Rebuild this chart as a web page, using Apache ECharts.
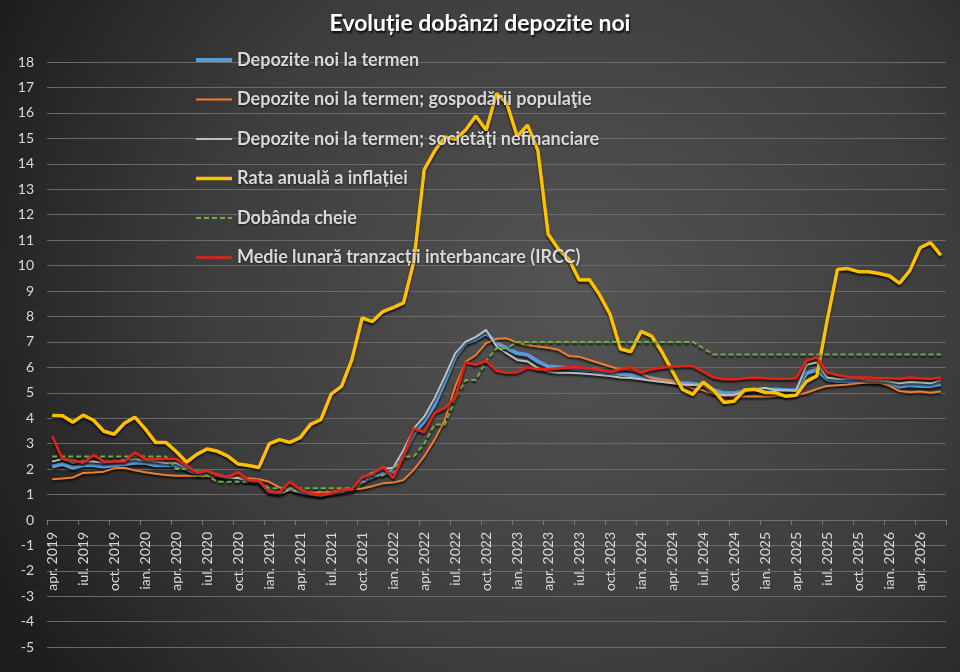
<!DOCTYPE html>
<html>
<head>
<meta charset="utf-8">
<script src="https://cdn.jsdelivr.net/npm/echarts@6/dist/echarts.min.js"></script>
<style>
html, body { margin: 0; padding: 0; background: #333; }
#chart { width: 960px; height: 672px; }
</style>
</head>
<body>
<div id="chart"></div>
<script>
// luni in romana, axa incepe cu apr. 2019 si merge 87 de luni
var luni = ['ian.', 'feb.', 'mar.', 'apr.', 'mai', 'iun.', 'iul.', 'aug.', 'sep.', 'oct.', 'nov.', 'dec.']
var categorii = []
for (var k = 3; k < 3 + 87; k++) {
    categorii.push(luni[k % 12] + ' ' + (2019 + Math.floor(k / 12)))
}

var numeSerii = [
    'Depozite noi la termen',
    'Depozite noi la termen; gospodării populaţie',
    'Depozite noi la termen; societăţi nefinanciare',
    'Rata anuală a inflației',
    'Dobânda cheie',
    'Medie lunară tranzacții interbancare (IRCC)'
]

var depoziteTermen = [
    2.1, 2.2, 2.05, 2.15, 2.15, 2.1, 2.15, 2.2, 2.25,
    2.25, 2.15, 2.15, 2.15, 2.0, 1.85, 1.85, 1.75, 1.65, 1.6, 1.55, 1.5,
    1.1, 1.05, 1.2, 1.1, 1.02, 0.98, 1.05, 1.1, 1.15, 1.5, 1.7, 1.84,
    1.9, 2.55, 3.4, 3.87, 4.52, 5.44, 6.42, 6.95, 7.1, 7.35, 6.95, 6.75,
    6.55, 6.49, 6.23, 6.03, 6.0, 5.96, 5.92, 5.9, 5.83, 5.79, 5.74, 5.7,
    5.63, 5.57, 5.5, 5.44, 5.37, 5.35, 5.3, 5.1, 4.98, 4.98, 5.05, 5.1,
    5.1, 5.13, 5.1, 5.1, 5.77, 5.9, 5.53, 5.47, 5.47, 5.47, 5.45, 5.42,
    5.37, 5.24, 5.3, 5.27, 5.26, 5.34
]

var depoziteGospodarii = [
    1.6, 1.63, 1.67, 1.85, 1.87, 1.9, 2.03, 2.05, 1.95,
    1.88, 1.82, 1.77, 1.74, 1.74, 1.73, 1.72, 1.71, 1.7, 1.68, 1.64, 1.6,
    1.5, 1.28, 1.18, 1.1, 1.08, 1.1, 1.12, 1.15, 1.2, 1.24, 1.33, 1.44,
    1.47, 1.57, 1.97, 2.5, 3.15, 3.93, 5.24, 6.22, 6.48, 6.95, 7.12, 7.14,
    6.97, 6.88, 6.82, 6.77, 6.69, 6.45, 6.42, 6.29, 6.16, 6.03, 5.92, 5.9,
    5.77, 5.57, 5.5, 5.44, 5.31, 5.18, 5.1, 4.95, 4.87, 4.85, 4.85, 4.85,
    4.85, 4.87, 4.87, 4.9, 5.0, 5.15, 5.27, 5.3, 5.33, 5.37, 5.4, 5.41,
    5.27, 5.07, 5.02, 5.05, 5.0, 5.05
]

var depoziteSocietati = [
    2.3, 2.4, 2.25, 2.3, 2.3, 2.25, 2.3, 2.35, 2.4,
    2.35, 2.3, 2.25, 2.25, 2.05, 1.9, 1.9, 1.75, 1.65, 1.65, 1.55, 1.5,
    1.1, 1.05, 1.2, 1.1, 1.0, 0.95, 1.05, 1.1, 1.2, 1.65, 1.85, 2.0,
    2.05, 2.75, 3.6, 4.06, 4.78, 5.64, 6.55, 7.0, 7.2, 7.47, 6.82, 6.55,
    6.29, 6.23, 5.96, 5.83, 5.79, 5.79, 5.77, 5.74, 5.7, 5.66, 5.6, 5.58,
    5.53, 5.47, 5.42, 5.37, 5.33, 5.31, 5.3, 4.98, 4.9, 4.92, 5.05, 5.13,
    5.2, 5.1, 5.1, 5.08, 6.1, 6.2, 5.6, 5.55, 5.55, 5.55, 5.5, 5.48,
    5.45, 5.37, 5.42, 5.4, 5.37, 5.5
]

var inflatie = [
    4.11, 4.10, 3.84, 4.12, 3.92, 3.49, 3.37, 3.80, 4.04,
    3.58, 3.05, 3.05, 2.69, 2.27, 2.58, 2.79, 2.70, 2.51, 2.20, 2.14, 2.06,
    2.99, 3.16, 3.05, 3.24, 3.76, 3.94, 4.95, 5.25, 6.29, 7.94, 7.80, 8.19,
    8.35, 8.53, 10.15, 13.76, 14.49, 15.05, 14.96, 15.32, 15.88, 15.32, 16.76, 16.37,
    15.07, 15.52, 14.53, 11.23, 10.64, 10.25, 9.43, 9.44, 8.83, 8.07, 6.72, 6.61,
    7.41, 7.23, 6.61, 5.86, 5.13, 4.94, 5.42, 5.10, 4.62, 4.67, 5.11, 5.14,
    5.01, 5.00, 4.86, 4.90, 5.45, 5.66, 7.84, 9.85, 9.88, 9.76, 9.76, 9.69,
    9.6, 9.3, 9.8, 10.7, 10.9, 10.4
]

var dobandaCheie = [
    2.5, 2.5, 2.5, 2.5, 2.5, 2.5, 2.5, 2.5, 2.5,
    2.5, 2.5, 2.5, 2.0, 2.0, 1.75, 1.75, 1.5, 1.5, 1.5, 1.5, 1.5,
    1.25, 1.25, 1.25, 1.25, 1.25, 1.25, 1.25, 1.25, 1.25, 1.5, 1.75, 1.75,
    2.0, 2.5, 2.5, 3.0, 3.75, 3.75, 4.75, 5.5, 5.5, 6.25, 6.75, 6.75,
    7, 7, 7, 7, 7, 7, 7, 7, 7, 7, 7, 7,
    7, 7, 7, 7, 7, 7, 6.75, 6.5, 6.5, 6.5, 6.5, 6.5,
    6.5, 6.5, 6.5, 6.5, 6.5, 6.5, 6.5, 6.5, 6.5, 6.5, 6.5, 6.5,
    6.5, 6.5, 6.5, 6.5, 6.5, 6.5
]

var ircc = [
    3.3, 2.4, 2.35, 2.25, 2.55, 2.3, 2.3, 2.3, 2.65,
    2.4, 2.4, 2.4, 2.4, 2.15, 1.86, 1.95, 1.77, 1.7, 1.87, 1.57, 1.55,
    1.1, 1.1, 1.5, 1.2, 1.05, 0.97, 1.05, 1.2, 1.2, 1.7, 1.8, 2.1,
    1.65, 2.5, 3.6, 3.45, 4.2, 4.4, 4.8, 6.2, 6.1, 6.25, 5.87, 5.79,
    5.8, 6.0, 5.92, 5.92, 5.96, 6.0, 6.0, 5.96, 5.9, 5.83, 5.92, 6.0,
    5.8, 5.92, 5.99, 6.03, 6.05, 6.05, 5.83, 5.6, 5.53, 5.53, 5.57, 5.6,
    5.57, 5.55, 5.55, 5.57, 6.27, 6.4, 5.8, 5.7, 5.63, 5.6, 5.6, 5.57,
    5.57, 5.55, 5.6, 5.57, 5.55, 5.6
]

var culori = ['#5b9bd5', '#ed7d31', '#bfbfbf', '#ffc000', '#70ad47', '#e2231a']
var grosimi = [4, 2, 2, 3.5, 2, 2.6]
var valori = [depoziteTermen, depoziteGospodarii, depoziteSocietati, inflatie, dobandaCheie, ircc]

var serii = numeSerii.map(function (nume, i) {
    return {
        name: nume,
        type: 'line',
        xAxisIndex: 0,
        yAxisIndex: 0,
        data: valori[i],
        symbol: 'none',
        smooth: false,
        lineStyle: {
            color: culori[i],
            width: grosimi[i],
            type: i === 4 ? [5, 3] : 'solid',
            shadowColor: 'rgba(0,0,0,0.75)',
            shadowBlur: 2,
            shadowOffsetY: 2
        },
        itemStyle: { color: culori[i] }
    }
})

var textAxa = { color: '#d9d9d9', fontSize: 14, margin: 13 }
var liniiGrila = { lineStyle: { color: '#6a6a6a', width: 1 } }

var myChart = echarts.init(document.getElementById('chart'))
myChart.setOption({
    animation: false,
    backgroundColor: {
        type: 'radial', x: 0.6, y: 0.45, r: 0.95,
        colorStops: [
            { offset: 0, color: '#545454' },
            { offset: 0.6, color: '#3c3c3c' },
            { offset: 1, color: '#1e1e1e' }
        ]
    },
    textStyle: { fontFamily: 'Lato, "Noto Sans", sans-serif' },
    title: {
        text: 'Evoluție dobânzi depozite noi',
        left: 'center',
        top: 7,
        textStyle: {
            color: '#ffffff',
            fontSize: 23,
            fontWeight: 'bold',
            textShadowColor: 'rgba(0,0,0,0.9)',
            textShadowBlur: 2,
            textShadowOffsetX: 1,
            textShadowOffsetY: 2
        }
    },
    legend: {
        orient: 'vertical',
        left: 189,
        top: 46,
        itemWidth: 36,
        itemHeight: 14,
        itemGap: 21.5,
        data: numeSerii,
        // doar linia, fara cercul de simbol
        itemStyle: { opacity: 0 },
        lineStyle: { width: 'inherit' },
        textStyle: {
            color: '#d9d9d9',
            fontSize: 18,
            fontWeight: 'bold',
            textShadowColor: 'rgba(0,0,0,0.6)',
            textShadowBlur: 2,
            textShadowOffsetY: 1
        }
    },
    // partea pozitiva (0..18) si partea negativa (-5..0) ca doua grile lipite
    grid: [
        { left: 47, right: 14, top: 62, bottom: 152, outerBoundsMode: 'none' },
        { left: 47, right: 14, top: 520, bottom: 25, outerBoundsMode: 'none' }
    ],
    xAxis: [
        {
            type: 'category',
            gridIndex: 0,
            data: categorii,
            boundaryGap: true,
            axisLine: { onZero: false, lineStyle: { color: '#6e6e6e', width: 1 } },
            axisTick: { show: true, interval: 2, length: 5, lineStyle: { color: '#7a7a7a' } },
            axisLabel: { interval: 2, rotate: 90, color: '#d9d9d9', fontSize: 14, margin: 12 },
            splitLine: { show: false },
            z: 5
        },
        {
            type: 'category',
            gridIndex: 1,
            data: categorii,
            show: false
        }
    ],
    yAxis: [
        {
            type: 'value',
            gridIndex: 0,
            min: 0,
            max: 18,
            interval: 1,
            axisLine: { show: false },
            axisTick: { show: false },
            axisLabel: textAxa,
            splitLine: liniiGrila
        },
        {
            type: 'value',
            gridIndex: 1,
            min: -5,
            max: 0,
            interval: 1,
            axisLine: { show: false },
            axisTick: { show: false },
            axisLabel: {
                color: '#d9d9d9',
                fontSize: 14,
                margin: 13,
                formatter: function (v) { return v === 0 ? '' : v }
            },
            splitLine: liniiGrila
        }
    ],
    series: serii
})
</script>
</body>
</html>
